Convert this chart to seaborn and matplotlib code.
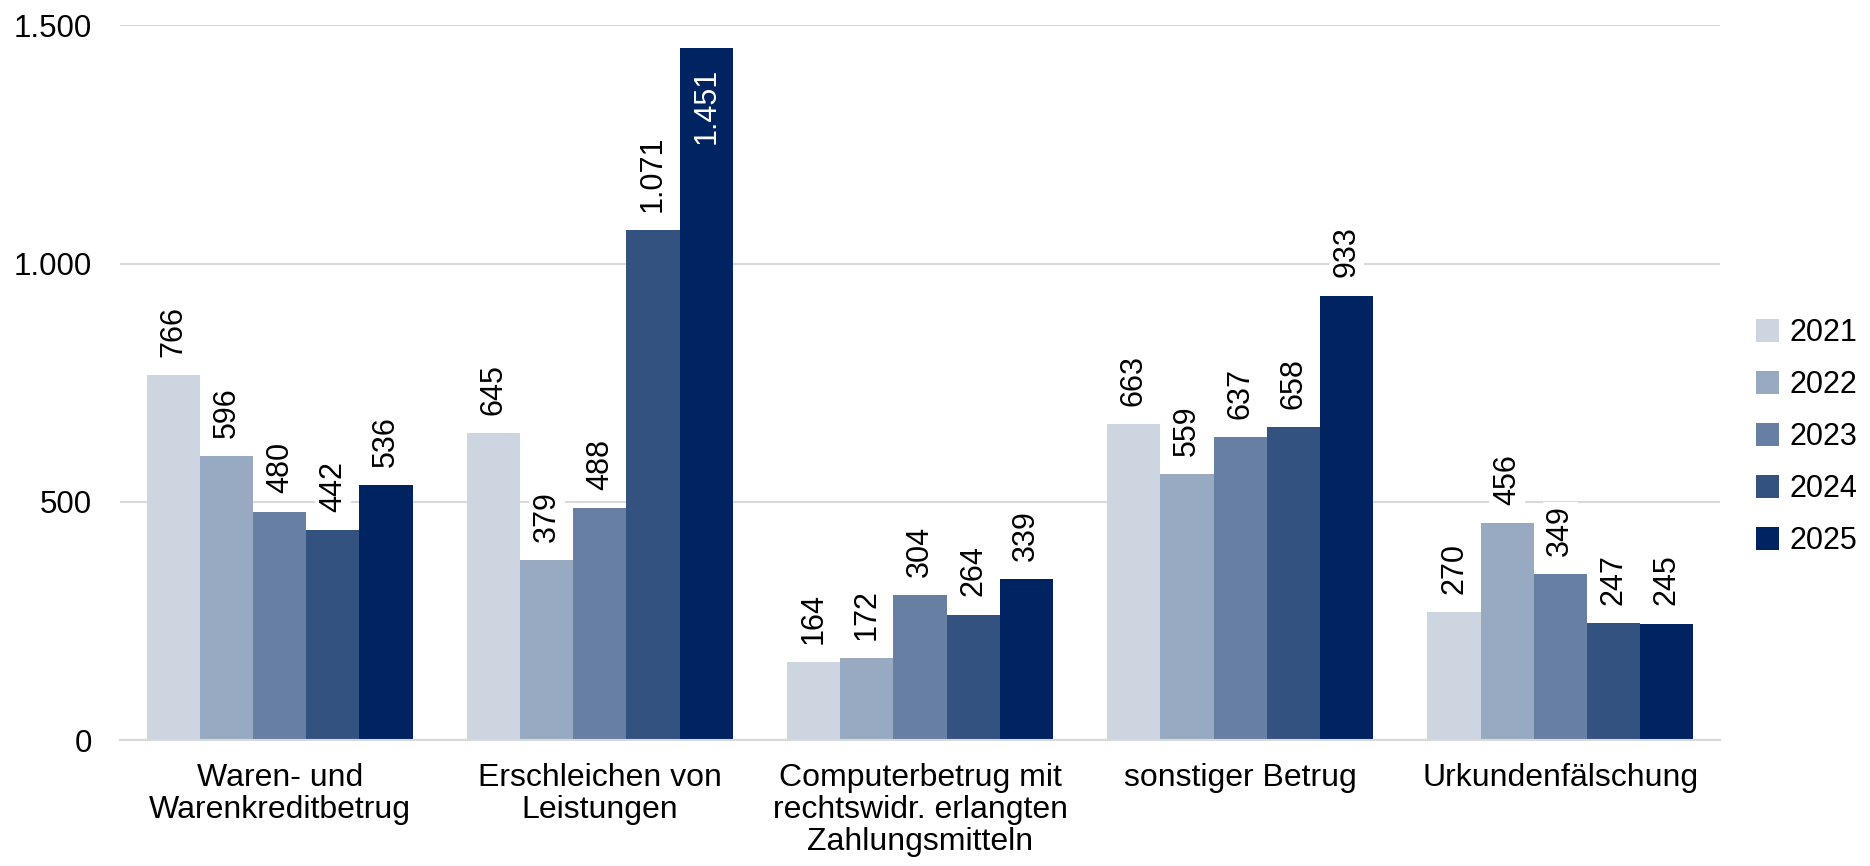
import pandas as pd
import matplotlib.pyplot as plt
import seaborn as sns
from matplotlib.ticker import FuncFormatter

categories = ["Waren- und\nWarenkreditbetrug", "Erschleichen von\nLeistungen",
              "Computerbetrug mit\nrechtswidr. erlangten\nZahlungsmitteln",
              "sonstiger Betrug", "Urkundenfälschung"]
years = ["2021", "2022", "2023", "2024", "2025"]
v2021 = [766, 645, 164, 663, 270]
v2022 = [596, 379, 172, 559, 456]
v2023 = [480, 488, 304, 637, 349]
v2024 = [442, 1071, 264, 658, 247]
v2025 = [536, 1451, 339, 933, 245]
colors = ["#CDD5E0", "#98A9C2", "#677FA3", "#34527F", "#002361"]

rows = []
for year, vals in zip(years, [v2021, v2022, v2023, v2024, v2025]):
    for cat, v in zip(categories, vals):
        rows.append({"Kategorie": cat, "Jahr": year, "Wert": v})
df = pd.DataFrame(rows)

sns.set_style("white")
plt.rcParams['font.family'] = ['Liberation Sans', 'DejaVu Sans']
plt.rcParams['text.color'] = 'black'
plt.rcParams['xtick.labelcolor'] = 'black'
plt.rcParams['ytick.labelcolor'] = 'black'

fig, ax = plt.subplots(figsize=(18.7, 8.66), dpi=100)
fig.subplots_adjust(left=0.064, right=0.92, top=0.971, bottom=0.145)

sns.barplot(data=df, x="Kategorie", y="Wert", hue="Jahr", palette=colors,
            width=0.83, saturation=1, linewidth=0, ax=ax, zorder=2)

def de_fmt(v):
    return f"{int(v):,}".replace(",", ".")

for container in ax.containers:
    for bar in container:
        h = bar.get_height()
        x = bar.get_x() + bar.get_width() / 2
        if h > 1300:
            ax.text(x, h - 40, de_fmt(h), rotation=90, ha="center", va="top",
                    color="white", fontsize=22, zorder=4)
        else:
            ax.text(x, h + 38, de_fmt(h), rotation=90, ha="center", va="bottom",
                    color="black", fontsize=22, zorder=4,
                    bbox=dict(facecolor="white", edgecolor="none", pad=2))

ax.set_ylim(0, 1500)
ax.set_xlim(-0.5, 4.5)
ax.set_yticks([0, 500, 1000, 1500])
ax.yaxis.set_major_formatter(FuncFormatter(lambda v, p: de_fmt(v)))
ax.yaxis.grid(True, color="#D9D9D9", linewidth=1.5, zorder=0)
ax.set_axisbelow(True)
ax.tick_params(axis="y", labelsize=22.5, length=0, pad=20)
ax.tick_params(axis="x", which="major", labelsize=23, length=0, pad=16)
plt.setp(ax.get_xticklabels(), linespacing=1.1)
ax.set_xticks([-0.5, 0.5, 1.5, 2.5, 3.5, 4.5], minor=True)
ax.tick_params(axis="x", which="minor", length=10, width=1.5, color="#D9D9D9", direction="out")
ax.set_xlabel("")
ax.set_ylabel("")

for s in ["left", "right", "top"]:
    ax.spines[s].set_visible(False)
ax.spines["bottom"].set_color("#D9D9D9")
ax.spines["bottom"].set_linewidth(1.5)

handles, labels = ax.get_legend_handles_labels()
ax.legend(handles, labels, loc="center left", bbox_to_anchor=(1.005, 0.424),
          frameon=False, fontsize=22, handlelength=0.75, handleheight=0.75,
          handletextpad=0.35, labelspacing=0.72)

fig.savefig("out.png", dpi=100)
